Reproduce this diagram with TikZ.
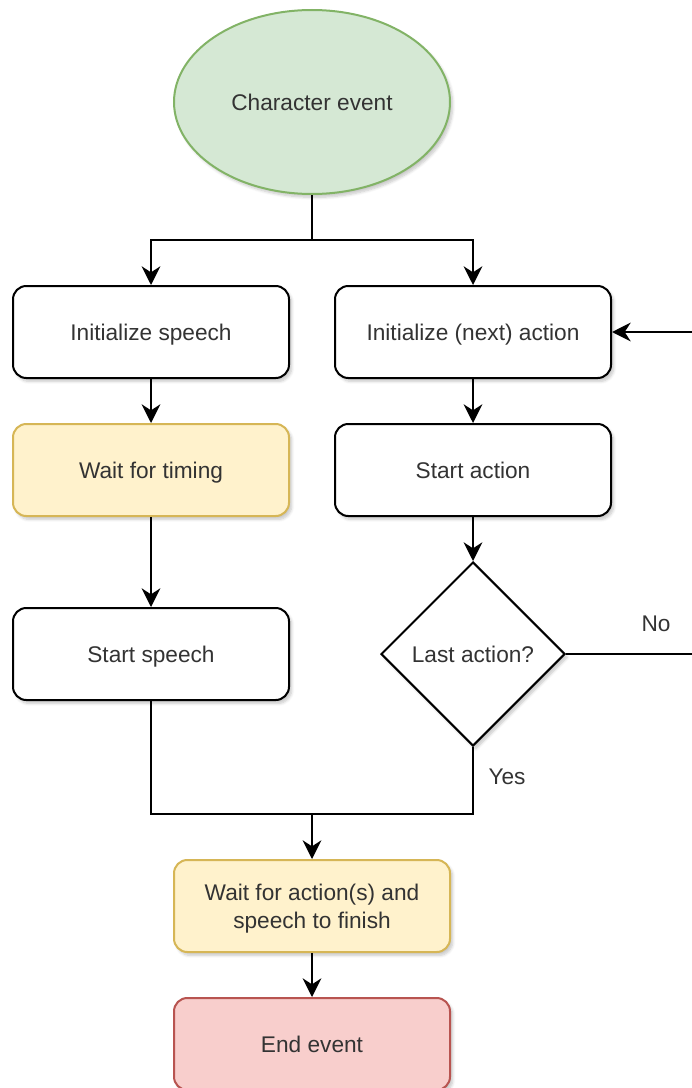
\documentclass[tikz,border=0pt]{standalone}
\usepackage{fontspec}
\setmainfont{Liberation Sans}
\usetikzlibrary{arrows.meta,shapes.geometric,shadows.blur}
\definecolor{txt}{HTML}{333333}
\definecolor{greenfill}{HTML}{D5E8D4}
\definecolor{greenline}{HTML}{82B366}
\definecolor{yellowfill}{HTML}{FFF2CC}
\definecolor{yellowline}{HTML}{D6B656}
\definecolor{redfill}{HTML}{F8CECC}
\definecolor{redline}{HTML}{B85450}
\tikzset{
  base/.style={line width=1.5pt, text=txt, align=center,
    font=\fontsize{17}{21}\selectfont,
    blur shadow={shadow xshift=2pt, shadow yshift=-2.5pt, shadow blur steps=6, shadow opacity=22}},
  oneline/.style={text height=12.5pt, text depth=0.5pt},
  stepbox/.style={base, draw=black, fill=white, rounded corners=10pt,
    minimum width=207pt, minimum height=69pt, inner sep=0pt},
  yellowbox/.style={stepbox, draw=yellowline, fill=yellowfill},
  redbox/.style={stepbox, draw=redline, fill=redfill},
  startoval/.style={base, ellipse, draw=greenline, fill=greenfill,
    minimum width=207pt, minimum height=138pt, inner sep=0pt},
  decision/.style={base, diamond, draw=black, fill=white, aspect=1,
    minimum width=138pt, minimum height=138pt, inner sep=0pt},
  flow/.style={line width=1.5pt, draw=black},
  arrow/.style={flow, -{Stealth[length=14pt, width=14pt, inset=4.5pt]}},
  lbl/.style={text=txt, font=\fontsize{17}{21}\selectfont}
}
\begin{document}
\begin{tikzpicture}[x=0.75pt, y=-0.75pt]
\useasboundingbox (0,0) rectangle (692,1088);

% nodes
\node[startoval, oneline] (ev) at (312,102) {Character event};
\node[stepbox, oneline] (is) at (151,332) {Initialize speech};
\node[yellowbox, oneline] (wt) at (151,470) {Wait for timing};
\node[stepbox, oneline] (ss) at (151,654) {Start speech};
\node[stepbox, oneline] (ia) at (473,332) {Initialize (next) action};
\node[stepbox, oneline] (sa) at (473,470) {Start action};
\node[decision, oneline] (dia) at (473,654) {Last action?};
\node[yellowbox] (wf) at (312,906) {\rule{0pt}{16.5pt}Wait for action(s) and\\speech to finish};
\node[redbox, oneline] (ee) at (312,1044) {End event};

% routing points
\coordinate (split) at (312,240);
\coordinate (merge) at (312,814);
\coordinate (loop) at (702,332);

% connectors
\draw[flow] (ev.south) -- (split);
\draw[arrow] (split) -| (is.north);
\draw[arrow] (split) -| (ia.north);
\draw[arrow] (is.south) -- (wt.north);
\draw[arrow] (wt.south) -- (ss.north);
\draw[arrow] (ia.south) -- (sa.north);
\draw[arrow] (sa.south) -- (dia.north);
\draw[arrow] (dia.east) -| (loop) -- (ia.east);
\draw[flow] (ss.south) |- (merge);
\draw[flow] (dia.south) |- (merge);
\draw[arrow] (merge) -- (wf.north);
\draw[arrow] (wf.south) -- (ee.north);

% branch labels
\node[lbl] (no) at (656,624) {No};
\node[lbl] (yes) at (507,777) {Yes};
\end{tikzpicture}
\end{document}
